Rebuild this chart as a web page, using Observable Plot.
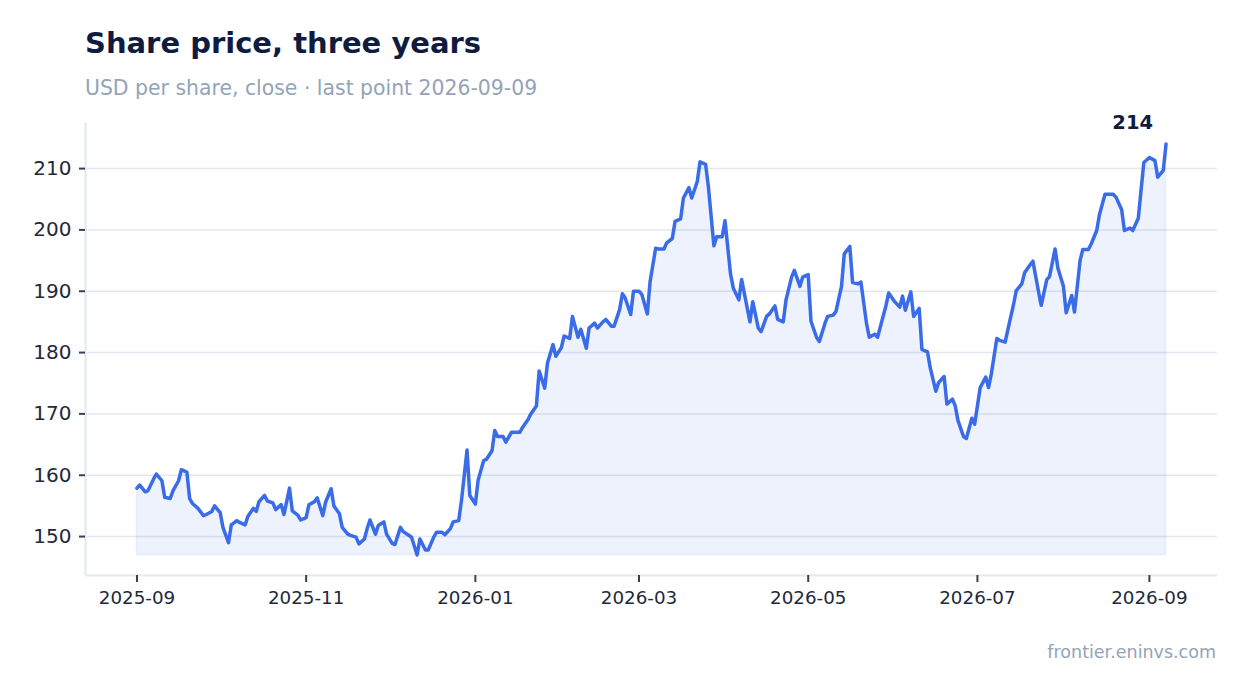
<!DOCTYPE html>
<html>
<head>
<meta charset="utf-8">
<script src="https://cdn.jsdelivr.net/npm/d3@7"></script>
<script src="https://cdn.jsdelivr.net/npm/@observablehq/plot@0.6"></script>
<style>
  html, body { margin: 0; padding: 0; background: #ffffff; }
  body { width: 1247px; height: 693px; position: relative; overflow: hidden; font-family: "DejaVu Sans", sans-serif; }
  #title { position: absolute; left: 85px; top: 29px; font-size: 29px; line-height: 29px; font-weight: bold; color: #0f1c3f; white-space: nowrap; }
  #subtitle { position: absolute; left: 85px; top: 78px; font-size: 20.4px; line-height: 20px; color: #94a3b8; white-space: nowrap; }
  #chart { position: absolute; left: 0; top: 100px; }
  #footer { position: absolute; right: 31px; top: 644px; font-size: 17.5px; line-height: 17px; color: #94a3b8; white-space: nowrap; }
</style>
</head>
<body>
<div id="title">Share price, three years</div>
<div id="subtitle">USD per share, close · last point 2026-09-09</div>
<div id="chart"></div>
<div id="footer">frontier.eninvs.com</div>
<script>
const startDate = "2025-09-01";
const dayOffsets = [
  0,1,3,4,6,7,9,10,12,13,15,16,18,19,20,22,24,25,27,28,30,31,33,34,36,37,39,40,42,43,44,46,47,49,50,52,53,55,56,58,59,61,62,64,65,67,68,70,71,
  73,74,76,77,79,80,82,83,84,86,87,89,90,92,93,95,96,98,99,101,102,104,105,107,108,110,111,113,114,116,117,119,120,122,123,125,126,128,129,130,132,133,135,136,138,139,141,142,144,
  145,147,148,150,151,153,154,156,157,159,160,162,163,165,166,168,169,171,172,174,175,176,178,179,181,182,184,185,187,188,190,191,193,194,196,197,199,200,202,203,205,206,208,209,211,212,214,215,217,218,220,
  221,222,224,225,227,228,230,231,233,234,236,237,239,240,242,243,245,246,248,249,251,252,254,255,257,258,260,261,263,264,266,267,269,270,271,273,275,276,277,279,280,282,283,285,286,288,289,291,292,294,295,
  296,298,299,301,302,304,306,307,308,310,311,313,314,316,317,319,320,322,323,325,326,328,329,331,332,334,335,337,338,340,341,343,344,346,347,349,350,352,353,355,356,358,359,361,362,363,365,367,368,370,371
];
const closes = [
  157.9,158.4,157.3,157.5,159.4,160.2,159.1,156.4,156.2,157.5,159.1,160.9,160.5,156.2,155.4,154.6,153.4,153.6,154.1,155.0,153.9,151.5,149.0,151.9,152.6,152.3,151.9,153.3,154.6,154.1,155.7,156.7,155.8,155.5,154.4,155.2,153.6,157.9,154.2,153.5,152.7,153.1,155.2,155.7,156.3,153.4,155.6,157.8,155.0,
  153.7,151.5,150.4,150.2,149.9,148.8,149.6,151.3,152.7,150.4,151.8,152.4,150.4,148.9,148.7,151.5,150.8,150.2,149.9,147.0,149.6,147.8,147.8,149.9,150.7,150.7,150.3,151.3,152.4,152.6,155.9,164.1,156.7,155.3,159.2,162.4,162.6,164.0,167.3,166.3,166.3,165.4,167.0,167.0,167.0,167.8,169.1,170.0,171.3,
  177.0,174.2,178.3,181.3,179.4,180.8,182.7,182.3,185.9,182.5,183.8,180.7,184.0,184.8,184.0,185.0,185.4,184.3,184.3,187.0,189.6,188.9,186.2,190.0,190.0,189.5,186.3,191.6,197.0,196.9,196.9,197.9,198.6,201.4,201.8,205.2,206.9,205.2,207.9,211.1,210.7,207.1,197.4,198.9,198.9,201.5,192.8,190.5,188.6,191.9,187.3,
  185.0,188.3,184.0,183.4,185.9,186.3,187.6,185.4,185.0,188.6,192.3,193.4,190.8,192.3,192.7,185.1,182.5,181.8,184.7,185.9,186.1,186.7,190.8,196.1,197.3,191.4,191.2,191.5,184.8,182.5,183.0,182.5,185.9,187.6,189.7,188.4,187.4,189.2,186.9,189.9,185.9,187.2,180.5,180.1,177.5,173.7,175.1,176.1,171.6,172.4,171.3,
  168.9,166.3,166.0,169.3,168.3,174.3,176.0,174.3,176.5,182.3,182.0,181.7,183.8,187.8,190.1,191.2,193.0,194.3,194.9,190.0,187.7,191.9,192.4,196.9,193.8,190.8,186.5,189.3,186.6,195.0,196.8,196.8,197.7,199.9,202.5,205.8,205.8,205.8,205.3,203.3,199.9,200.3,199.9,201.9,206.5,211.0,211.8,211.3,208.6,209.7,214.0
];
const yTickValues = [150, 160, 170, 180, 190, 200, 210];
const xTickLabels = ["2025-09", "2025-11", "2026-01", "2026-03", "2026-05", "2026-07", "2026-09"];

const lineColor = "#3a6be8";
const gridColor = "#e2e7f0";
const inkColor = "#1e293b";

const start = new Date(startDate + "T00:00:00Z");
const data = dayOffsets.map((d, i) => ({ date: d3.utcDay.offset(start, d), close: closes[i] }));
const last = data[data.length - 1];

const minClose = d3.min(closes), maxClose = d3.max(closes);
const yPad = (maxClose - minClose) * 0.05;
const yDomain = [minClose - yPad, maxClose + yPad];
const x0 = +data[0].date, x1 = +last.date;
const xPad = (x1 - x0) * 0.05;
const xDomain = [new Date(x0 - xPad), new Date(x1 + xPad)];
const xTicks = xTickLabels.map(s => new Date(s + "-01T00:00:00Z"));

const chart = Plot.plot({
  width: 1247,
  height: 530,
  marginLeft: 85,
  marginRight: 30,
  marginTop: 23,
  marginBottom: 55,
  style: { fontFamily: "DejaVu Sans, sans-serif", background: "#ffffff", color: inkColor },
  x: { type: "utc", domain: xDomain },
  y: { domain: yDomain },
  marks: [
    Plot.gridY(yTickValues, { stroke: gridColor, strokeOpacity: 1, strokeWidth: 1.5 }),
    Plot.areaY(data, { x: "date", y1: minClose, y2: "close", fill: lineColor, fillOpacity: 0.09, stroke: lineColor, strokeOpacity: 0.07, strokeWidth: 2 }),
    Plot.ruleX([xDomain[0]], { stroke: gridColor, strokeWidth: 2 }),
    Plot.ruleY([yDomain[0]], { stroke: gridColor, strokeWidth: 2 }),
    Plot.axisY(yTickValues, { tickSize: 6, tickPadding: 8, fontSize: 20, label: null, stroke: "#374151", strokeWidth: 2, fill: inkColor }),
    Plot.axisX(xTicks, { tickSize: 7, tickPadding: 8, fontSize: 18.3, label: null, tickFormat: d3.utcFormat("%Y-%m"), stroke: "#374151", strokeWidth: 2, fill: inkColor }),
    Plot.lineY(data, { x: "date", y: "close", stroke: lineColor, strokeWidth: 3.5, strokeLinejoin: "round" }),
    Plot.text([last], { x: "date", y: "close", text: d => d3.format(".0f")(d.close), dx: -13, dy: -21, textAnchor: "end", fontWeight: "bold", fontSize: 19.5, fill: "#0f1c3f" })
  ]
});
document.getElementById("chart").appendChild(chart);
</script>
</body>
</html>
